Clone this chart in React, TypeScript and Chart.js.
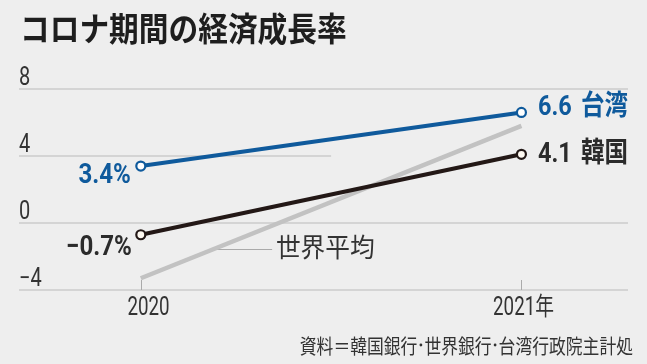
import { useEffect, useRef } from "react";
import { Chart, registerables } from "chart.js";

Chart.register(...registerables);

// ---- data ----
const years = [2020, 2021];
const taiwan = [3.4, 6.6];
const korea = [-0.7, 4.1];
const world = [-3.3, 5.8];
const yTicks = [8, 4, 0, -4];
const yearLabels = ["2020", "2021年"];
const seriesNames = ["台湾", "韓国", "世界平均"];
const titleText = "コロナ期間の経済成長率";
const sourceParts = ["資料＝韓国銀行", "世界銀行", "台湾行政院主計処"];

// ---- styles ----
const BG = "#eeeeee";
const BLUE = "#0f5a9c";
const DARK = "#231816";
const GRAY = "#c2c2c2";
const TEXT = "#2b2b2b";
const NUM_FONT = "Roboto, 'Noto Sans CJK JP', sans-serif";
const CJK_FONT = "'Noto Sans CJK JP', sans-serif";

function fmt(v: number) {
  return (v < 0 ? "\u2212" : "") + Math.abs(v).toFixed(1);
}

function txt(
  ctx: CanvasRenderingContext2D,
  s: string,
  x: number,
  y: number,
  font: string,
  color: string,
  align: "left" | "right" | "center",
  sx: number
) {
  ctx.save();
  ctx.font = font;
  ctx.fillStyle = color;
  ctx.textBaseline = "alphabetic";
  ctx.textAlign = "left";
  const w = ctx.measureText(s).width * sx;
  const x0 = align === "left" ? x : align === "right" ? x - w : x - w / 2;
  ctx.translate(x0, y);
  ctx.scale(sx, 1);
  ctx.fillText(s, 0, 0);
  ctx.restore();
  return w;
}

const decor = {
  id: "decor",
  beforeDraw(chart: any) {
    const ctx: CanvasRenderingContext2D = chart.ctx;
    const xs = chart.scales.x;
    const ys = chart.scales.y;
    const { left, right, bottom } = chart.chartArea;
    ctx.save();
    ctx.fillStyle = BG;
    ctx.fillRect(0, 0, chart.width, chart.height);

    // title
    txt(ctx, titleText, 20, 41, `bold 33px ${CJK_FONT}`, "#1e1e1e", "left", 0.9);

    // grid lines + y tick labels
    ctx.strokeStyle = "#cbcbcb";
    ctx.lineWidth = 1.5;
    yTicks.forEach((v) => {
      const py = ys.getPixelForValue(v);
      const end = v === 4 ? xs.getPixelForValue(2020.5) : right;
      ctx.beginPath();
      ctx.moveTo(left, py);
      ctx.lineTo(end, py);
      ctx.stroke();
      txt(ctx, v < 0 ? "\u2212" + Math.abs(v) : String(v), left, py - 4, `25px ${NUM_FONT}`, "#333333", "left", 0.8);
    });

    // x ticks + labels
    ctx.strokeStyle = "#aaaaaa";
    ctx.lineWidth = 1;
    const labelShift = [7, 2];
    years.forEach((yr, i) => {
      const px = Math.round(xs.getPixelForValue(yr)) + 0.5;
      ctx.beginPath();
      ctx.moveTo(px, bottom - 10);
      ctx.lineTo(px, bottom);
      ctx.stroke();
      txt(ctx, yearLabels[i], px + labelShift[i], 315, `25px ${NUM_FONT}`, "#333333", "center", 0.75);
    });

    // source (parts joined by narrow middle dots), right-aligned
    const sFont = `20px ${CJK_FONT}`;
    const sSx = 0.84;
    ctx.font = sFont;
    const dotW = 7;
    const partW = sourceParts.map((p) => ctx.measureText(p).width * sSx);
    const total = partW.reduce((a, b) => a + b, 0) + dotW * (sourceParts.length - 1);
    let cx = 633 - total;
    sourceParts.forEach((p, i) => {
      txt(ctx, p, cx, 354, sFont, "#333333", "left", sSx);
      cx += partW[i];
      if (i < sourceParts.length - 1) {
        ctx.fillStyle = "#333333";
        ctx.beginPath();
        ctx.arc(cx + dotW / 2, 345, 1.4, 0, Math.PI * 2);
        ctx.fill();
        cx += dotW;
      }
    });

    // world average annotation
    const ly = ys.getPixelForValue(-1.55);
    ctx.strokeStyle = "#aaaaaa";
    ctx.lineWidth = 1;
    ctx.beginPath();
    ctx.moveTo(xs.getPixelForValue(2020.195), Math.round(ly) + 0.5);
    ctx.lineTo(xs.getPixelForValue(2020.345), Math.round(ly) + 0.5);
    ctx.stroke();
    txt(ctx, seriesNames[2], xs.getPixelForValue(2020.355), ly + 8, `26px ${CJK_FONT}`, "#333333", "left", 0.95);
    ctx.restore();
  },
  afterDatasetsDraw(chart: any) {
    const ctx: CanvasRenderingContext2D = chart.ctx;
    const tw = chart.getDatasetMeta(0).data;
    const kr = chart.getDatasetMeta(1).data;
    const bold = `bold 28px ${NUM_FONT}`;
    // 2020 labels
    txt(ctx, fmt(taiwan[0]) + "%", tw[0].x - 10, tw[0].y + 17, bold, BLUE, "right", 0.86);
    txt(ctx, fmt(korea[0]) + "%", kr[0].x - 9, kr[0].y + 20, bold, TEXT, "right", 0.86);
    // 2021 labels
    txt(ctx, fmt(taiwan[1]), tw[1].x + 16.5, tw[1].y + 3, bold, BLUE, "left", 0.84);
    txt(ctx, seriesNames[0], tw[1].x + 59.5, tw[1].y + 3, `bold 28px ${CJK_FONT}`, BLUE, "left", 0.84);
    txt(ctx, fmt(korea[1]), kr[1].x + 16.5, kr[1].y + 8, bold, TEXT, "left", 0.84);
    txt(ctx, seriesNames[1], kr[1].x + 59.5, kr[1].y + 8, `bold 28px ${CJK_FONT}`, TEXT, "left", 0.84);
  },
};

export default function App() {
  const ref = useRef<HTMLCanvasElement | null>(null);
  useEffect(() => {
    if (!ref.current) return;
    const pts = (arr: number[]) => years.map((x, i) => ({ x, y: arr[i] }));
    const chart = new Chart(ref.current, {
      type: "line",
      data: {
        datasets: [
          {
            label: seriesNames[0],
            data: pts(taiwan),
            borderColor: BLUE,
            borderWidth: 4,
            pointRadius: 4.5,
            pointBorderWidth: 2.2,
            pointBackgroundColor: "#ffffff",
            pointBorderColor: BLUE,
          },
          {
            label: seriesNames[1],
            data: pts(korea),
            borderColor: DARK,
            borderWidth: 4,
            pointRadius: 4.5,
            pointBorderWidth: 2.2,
            pointBackgroundColor: "#fffaf2",
            pointBorderColor: DARK,
          },
          {
            label: seriesNames[2],
            data: pts(world),
            borderColor: GRAY,
            borderWidth: 4.5,
            pointRadius: 0,
          },
        ],
      },
      options: {
        responsive: false,
        animation: false,
        clip: false as any,
        layout: { padding: { left: 19, right: 19, top: 89, bottom: 74 } },
        elements: { line: { tension: 0 } },
        scales: {
          x: { type: "linear", min: 2019.68, max: 2021.28, display: false },
          y: { type: "linear", min: -4, max: 8, display: false },
        },
        plugins: { legend: { display: false }, tooltip: { enabled: false }, title: { display: false } },
      },
      plugins: [decor],
    });
    return () => chart.destroy();
  }, []);
  return (
    <div style={{ position: "absolute", left: 0, top: 0, width: 647, height: 364, background: BG }}>
      <canvas ref={ref} width={647} height={364} style={{ display: "block" }} />
    </div>
  );
}
